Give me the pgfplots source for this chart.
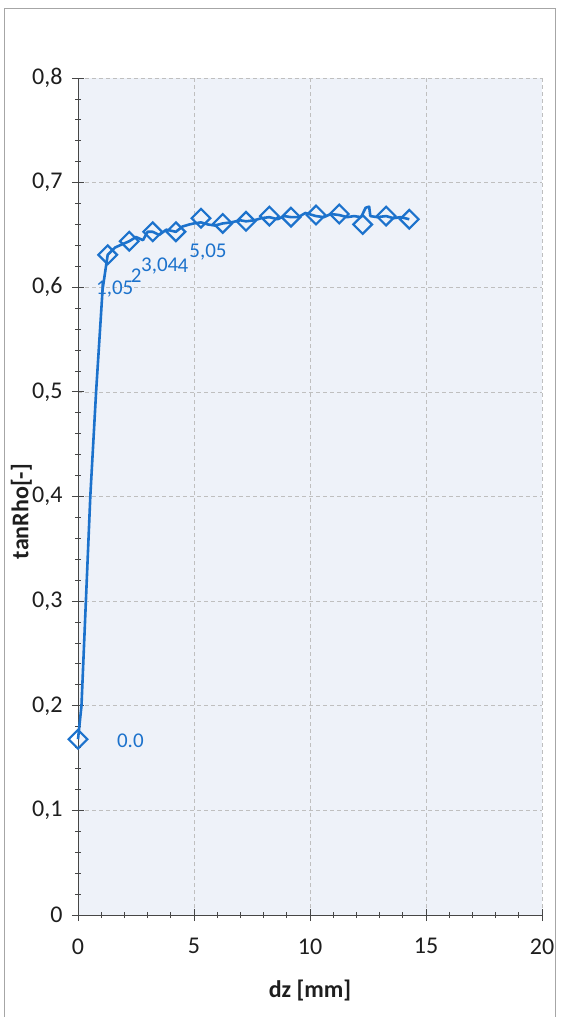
\documentclass[border=0pt]{standalone}
\usepackage{pgfplots}
\pgfplotsset{compat=1.18}
\usepackage{fontspec}
\setmainfont{Carlito}

\definecolor{serie}{RGB}{28,114,204}
\definecolor{plotbg}{RGB}{238,242,249}
\definecolor{axisgray}{RGB}{70,70,70}
\definecolor{txt}{RGB}{30,30,30}

\begin{document}
\begin{tikzpicture}[x=1pt,y=1pt]
\path[use as bounding box] (0,0) rectangle (562,1017);
\draw[gray!70, line width=0.8pt] (4,0) -- (4,1009) -- (555,1009) -- (555,0);

\begin{axis}[
  at={(78pt,102pt)}, anchor=south west,
  scale only axis, width=464pt, height=837pt,
  xmin=0, xmax=20, ymin=0, ymax=0.8,
  axis x line=bottom, axis y line=left,
  axis line style={axisgray, line width=0.8pt, -},
  axis background/.style={fill=plotbg},
  xtick={0,5,...,20}, ytick={0,0.1,...,0.8},
  minor x tick num=4, minor y tick num=4,
  tick align=center,
  major tick length=12pt, minor tick length=6pt,
  tick style={axisgray, line width=0.8pt},
  grid=major,
  major grid style={gray!50, dash pattern=on 4pt off 3pt, line width=0.6pt},
  /pgf/number format/use comma,
  /pgf/number format/assume math mode=true,
  ticklabel style={font=\fontsize{24}{26}\selectfont, text=txt},
  yticklabel style={xshift=-6pt},
  xticklabel style={yshift=-14pt},
  xlabel={dz [mm]}, ylabel={tanRho[-]},
  label style={font=\bfseries\fontsize{24}{26}\selectfont, text=txt},
  xlabel style={at={(axis description cs:0.50,-0.090)}, anchor=center},
  ylabel style={at={(axis description cs:-0.122,0.482)}, anchor=center},
  clip=false,
]

% measured curve
\addplot[serie, line width=2.6pt, line join=round] coordinates {
(0,0.168) (0.15,0.2) (0.34,0.3) (0.53,0.4) (0.78,0.5) (1.06,0.598)
(1.28,0.631) (1.6,0.638) (1.9,0.641) (2.21,0.644) (2.5,0.648) (2.8,0.645)
(3.0,0.653) (3.22,0.653) (3.5,0.650) (3.8,0.655) (4.22,0.653) (4.5,0.658)
(4.8,0.660) (5.0,0.661) (5.3,0.662) (5.6,0.660) (5.9,0.659) (6.24,0.661)
(6.6,0.662) (7.0,0.664) (7.24,0.663) (7.6,0.664) (7.9,0.666) (8.25,0.667)
(8.6,0.665) (8.9,0.668) (9.18,0.667) (9.5,0.667) (9.8,0.671) (10.26,0.668)
(10.6,0.667) (10.9,0.670) (11.26,0.669) (11.6,0.667) (11.9,0.668) (12.2,0.667)
(12.4,0.676) (12.55,0.677) (12.6,0.668) (12.9,0.667) (13.28,0.668) (13.6,0.666)
(13.9,0.667) (14.28,0.665)
};

% markers without labels
\addplot[only marks, mark=square, mark size=6.6pt,
  mark options={rotate=45, draw=serie, fill=plotbg, line width=2.2pt}]
coordinates {
(6.24,0.661) (7.24,0.663) (8.25,0.668) (9.18,0.667) (10.26,0.669)
(11.26,0.670) (12.27,0.660) (13.28,0.668) (14.28,0.665)
};

% labelled markers
\addplot[only marks, mark=square, mark size=6.6pt,
  mark options={rotate=45, draw=serie, fill=plotbg, line width=2.2pt},
  nodes near coords, point meta=explicit symbolic,
  every node near coord/.style={anchor=center, xshift=7pt, yshift=-34pt,
    font=\fontsize{21}{23}\selectfont, text=serie, inner sep=0pt}]
table[meta=lab] {
x     y      lab
1.28  0.631  1,05
2.21  0.644  2
3.22  0.653  3,04
4.22  0.653  4
5.30  0.666  5,05
};

\addplot[only marks, mark=square, mark size=6.6pt,
  mark options={rotate=45, draw=serie, fill=plotbg, line width=2.2pt},
  nodes near coords, point meta=explicit symbolic,
  every node near coord/.style={anchor=west, xshift=38pt, yshift=-2pt,
    font=\fontsize{21}{23}\selectfont, text=serie, inner sep=0pt}]
table[meta=lab] {
x     y      lab
0     0.168  0.0
};
\end{axis}
\end{tikzpicture}
\end{document}
